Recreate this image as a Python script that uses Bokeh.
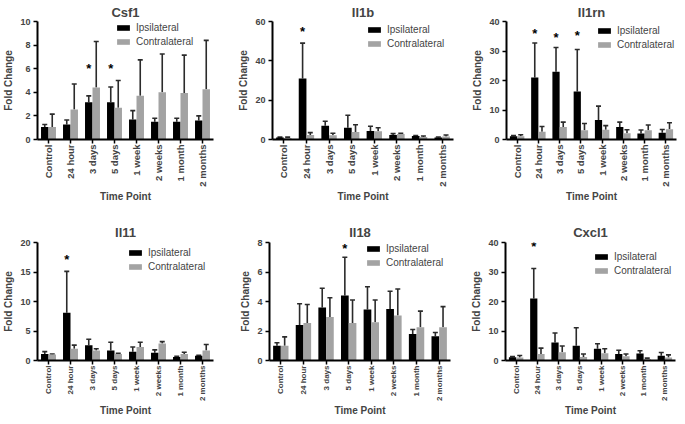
import math
from bokeh.plotting import figure
from bokeh.models import (FactorRange, ColumnDataSource, Whisker, TeeHead, Legend,
                          LegendItem, FixedTicker)
from bokeh.transform import dodge
from bokeh.layouts import row, column
from bokeh.embed import file_html
from bokeh.resources import INLINE
from bokeh.core.properties import value

time_points = ["Control", "24 hour", "3 days", "5 days", "1 week", "2 weeks", "1 month", "2 months"]
series_names = ["Ipsilateral", "Contralateral"]

# Csf1
csf1_ipsi = [1.05, 1.27, 3.15, 3.15, 1.7, 1.5, 1.5, 1.6]
csf1_ipsi_err = [0.22, 0.38, 0.55, 1.3, 0.75, 0.3, 0.3, 0.4]
csf1_contra = [1.05, 2.55, 4.4, 2.7, 3.7, 4.0, 3.95, 4.25]
csf1_contra_err = [1.1, 2.15, 3.9, 2.3, 3.05, 3.25, 3.2, 4.15]
csf1_ticks = [0, 2, 4, 6, 8, 10]
csf1_star_at = ["3 days", "5 days"]
csf1_star_y = [6.0, 6.0]

# Il1b
il1b_ipsi = [1.0, 31.0, 7.0, 6.0, 4.3, 2.3, 1.8, 1.0]
il1b_ipsi_err = [0.2, 18.0, 2.3, 6.3, 2.4, 0.7, 0.2, 0.3]
il1b_contra = [0.8, 2.3, 2.2, 3.8, 4.2, 2.8, 1.3, 1.5]
il1b_contra_err = [0.4, 1.2, 1.0, 3.7, 1.8, 0.3, 0.5, 0.8]
il1b_ticks = [0, 20, 40, 60]
il1b_star_at = ["24 hour"]
il1b_star_y = [54.9]

# Il1rn
il1rn_ipsi = [1.1, 21.0, 23.0, 16.3, 6.6, 4.2, 2.0, 2.3]
il1rn_ipsi_err = [0.2, 11.7, 8.2, 14.2, 4.7, 1.7, 1.2, 1.1]
il1rn_contra = [1.1, 2.6, 4.2, 3.1, 3.3, 2.1, 3.1, 3.5]
il1rn_contra_err = [0.5, 1.8, 1.7, 2.3, 1.4, 1.2, 1.8, 2.2]
il1rn_ticks = [0, 10, 20, 30, 40]
il1rn_star_at = ["24 hour", "3 days", "5 days"]
il1rn_star_y = [36.0, 34.6, 35.3]

# Il11
il11_ipsi = [1.1, 8.1, 2.6, 1.7, 1.5, 1.3, 0.6, 0.8]
il11_ipsi_err = [0.4, 7.0, 1.0, 1.4, 0.8, 0.5, 0.1, 0.1]
il11_contra = [1.0, 2.0, 1.7, 1.1, 2.3, 2.9, 1.1, 1.7]
il11_contra_err = [0.1, 0.6, 0.3, 0.1, 0.8, 0.3, 0.3, 1.0]
il11_ticks = [0, 5, 10, 15, 20]
il11_star_at = ["24 hour"]
il11_star_y = [17.1]

# Il18
il18_ipsi = [1.0, 2.4, 3.6, 4.4, 3.45, 3.5, 1.8, 1.65]
il18_ipsi_err = [0.2, 1.45, 1.3, 2.6, 1.55, 1.2, 0.3, 0.25]
il18_contra = [1.0, 2.55, 2.95, 2.55, 2.6, 3.05, 2.25, 2.25]
il18_contra_err = [0.6, 1.25, 1.3, 1.55, 1.5, 1.8, 1.1, 1.4]
il18_ticks = [0, 2, 4, 6, 8]
il18_star_at = ["5 days"]
il18_star_y = [7.6]

# Cxcl1
cxcl1_ipsi = [1.1, 21.0, 6.1, 5.0, 4.0, 2.2, 2.4, 1.6]
cxcl1_ipsi_err = [0.2, 10.2, 3.2, 6.1, 1.7, 1.3, 0.9, 1.1]
cxcl1_contra = [1.0, 2.2, 2.8, 1.2, 2.5, 1.4, 0.5, 1.0]
cxcl1_contra_err = [0.7, 2.0, 2.1, 1.0, 1.5, 0.8, 0.3, 0.9]
cxcl1_ticks = [0, 10, 20, 30, 40]
cxcl1_star_at = ["24 hour"]
cxcl1_star_y = [38.5]

FONT = "Liberation Sans"
BLACK = "#000000"
GREY = "#a3a3a3"
ERR = "#2b2b2b"


def panel(title, ipsi, ipsi_err, contra, contra_err, ticks, star_at, star_y,
          fw, fh, left, right, top, bottom, legend_xy, tick_font,
          title_standoff):
    src = ColumnDataSource(dict(
        tp=time_points,
        ipsi=ipsi,
        ipsi_top=[m + e for m, e in zip(ipsi, ipsi_err)],
        contra=contra,
        contra_top=[m + e for m, e in zip(contra, contra_err)],
    ))
    p = figure(x_range=FactorRange(*time_points), y_range=(0, ticks[-1]),
               frame_width=fw, frame_height=fh, min_border_left=left,
               min_border_right=right, min_border_top=top,
               min_border_bottom=bottom, output_backend="svg",
               toolbar_location=None, title=title)
    p.title.align = "center"
    p.title.text_font = FONT
    p.title.text_font_size = "13px"
    p.title.text_font_style = "bold"
    p.title.standoff = title_standoff
    p.outline_line_color = None
    p.xgrid.grid_line_color = None
    p.ygrid.grid_line_color = None

    xi = dodge("tp", -0.17, range=p.x_range)
    xc = dodge("tp", 0.17, range=p.x_range)
    r1 = p.vbar(x=xi, top="ipsi", width=0.34, source=src, fill_color=BLACK,
                line_color=None)
    r2 = p.vbar(x=xc, top="contra", width=0.34, source=src, fill_color=GREY,
                line_color=None)
    for base, lo, hi in [(xi, "ipsi", "ipsi_top"), (xc, "contra", "contra_top")]:
        w = Whisker(base=base, lower=lo, upper=hi, source=src,
                    dimension="height", line_color=ERR, line_width=1.6,
                    lower_head=None,
                    upper_head=TeeHead(size=5, line_color=ERR, line_width=1.6))
        p.add_layout(w)

    ssrc = ColumnDataSource(dict(tp=star_at, y=star_y, t=["*"] * len(star_at)))
    p.text(x=dodge("tp", -0.17, range=p.x_range), y="y", text="t", source=ssrc,
           text_align="center", text_baseline="middle", text_font=value(FONT),
           text_font_size="13px", text_font_style="bold", text_color="black")

    legend = Legend(items=[LegendItem(label=series_names[0], renderers=[r1]),
                           LegendItem(label=series_names[1], renderers=[r2])],
                    location=legend_xy, border_line_color=None,
                    background_fill_alpha=0, padding=0, margin=0, spacing=2,
                    glyph_width=16, glyph_height=7, label_height=12,
                    label_standoff=5, label_text_font=FONT,
                    label_text_font_size="10px")
    p.add_layout(legend)

    ax = p.xaxis[0]
    ax.axis_label = "Time Point"
    ax.axis_label_text_font = FONT
    ax.axis_label_text_font_size = "10px"
    ax.axis_label_text_font_style = "bold"
    ax.axis_label_standoff = 1
    ax.axis_line_width = 2
    ax.major_tick_line_width = 1.5
    ax.major_tick_out = 4
    ax.major_tick_in = 0
    ax.major_label_orientation = math.pi / 2
    ax.major_label_standoff = 1
    ax.major_label_text_font = FONT
    ax.major_label_text_font_size = tick_font
    ax.major_label_text_font_style = "bold"

    ay = p.yaxis[0]
    ay.ticker = FixedTicker(ticks=ticks)
    ay.axis_label = "Fold Change"
    ay.axis_label_text_font = FONT
    ay.axis_label_text_font_size = "10px"
    ay.axis_label_text_font_style = "bold"
    ay.axis_label_standoff = 3
    ay.axis_line_width = 2
    ay.major_tick_line_width = 1.5
    ay.major_tick_out = 4
    ay.major_tick_in = 0
    ay.minor_tick_line_color = None
    ay.major_label_standoff = 3
    ay.major_label_text_font = FONT
    ay.major_label_text_font_size = "9px"
    ay.major_label_text_font_style = "bold"
    return p


f1 = panel("Csf1", csf1_ipsi, csf1_ipsi_err, csf1_contra, csf1_contra_err,
           csf1_ticks, csf1_star_at, csf1_star_y, 176, 118, 30, 22, 21, 77,
           (78, 92), "9.5px", 3)
f2 = panel("Il1b", il1b_ipsi, il1b_ipsi_err, il1b_contra, il1b_contra_err,
           il1b_ticks, il1b_star_at, il1b_star_y, 181, 118, 35, 12, 21, 77,
           (94, 90), "9.5px", 3)
f3 = panel("Il1rn", il1rn_ipsi, il1rn_ipsi_err, il1rn_contra, il1rn_contra_err,
           il1rn_ticks, il1rn_star_at, il1rn_star_y, 170, 118, 41, 2, 21, 77,
           (90, 89), "9.5px", 3)
f4 = panel("Il11", il11_ipsi, il11_ipsi_err, il11_contra, il11_contra_err,
           il11_ticks, il11_star_at, il11_star_y, 176, 118, 30, 22, 26, 50,
           (90, 88), "8px", 6)
f5 = panel("Il18", il18_ipsi, il18_ipsi_err, il18_contra, il18_contra_err,
           il18_ticks, il18_star_at, il18_star_y, 181, 118, 34, 13, 26, 50,
           (96, 92), "8px", 6)
f6 = panel("Cxcl1", cxcl1_ipsi, cxcl1_ipsi_err, cxcl1_contra, cxcl1_contra_err,
           cxcl1_ticks, cxcl1_star_at, cxcl1_star_y, 170, 118, 42, 1, 26, 50,
           (88, 84), "8px", 6)

layout = column(row(f1, f2, f3), row(f4, f5, f6))
open("out.html", "w").write(file_html(layout, INLINE))
